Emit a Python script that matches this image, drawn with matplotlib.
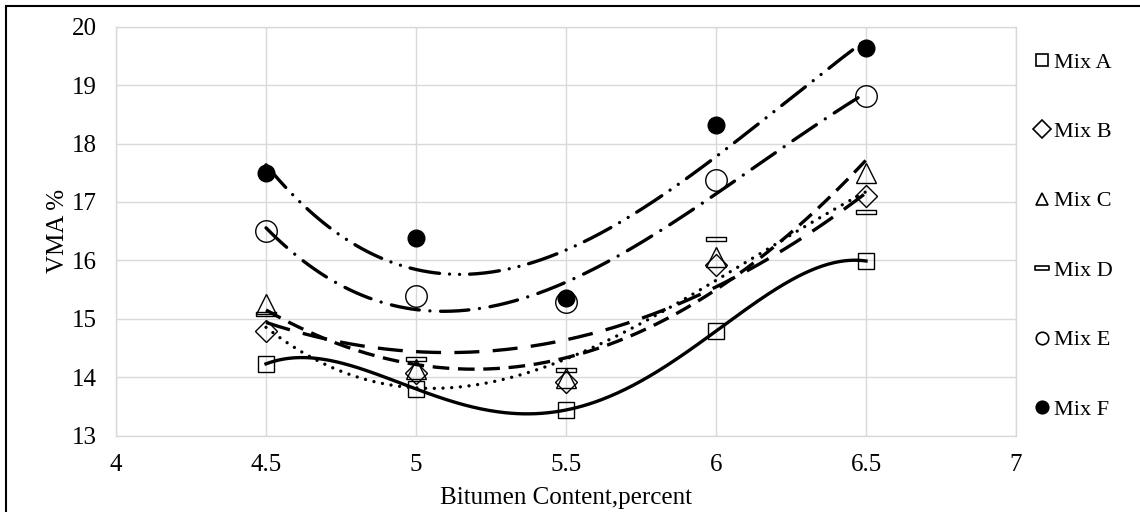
import numpy as np
import matplotlib
matplotlib.use('Agg')
import matplotlib.pyplot as plt
from matplotlib.lines import Line2D
from matplotlib.patches import Rectangle
from matplotlib.path import Path

plt.rcParams['font.family'] = ['Liberation Serif', 'DejaVu Serif']

# bitumen content (%) and VMA (%) for each mix
bitumen = [4.5, 5.0, 5.5, 6.0, 6.5]
mix_names = ['Mix A', 'Mix B', 'Mix C', 'Mix D', 'Mix E', 'Mix F']
vma_a = [14.23, 13.80, 13.44, 14.79, 15.99]
vma_b = [14.79, 14.08, 13.92, 15.92, 17.11]
vma_c = [15.25, 14.14, 13.98, 16.05, 17.50]
vma_d = [15.09, 14.31, 14.12, 16.37, 16.83]
vma_e = [16.50, 15.39, 15.28, 17.37, 18.81]
vma_f = [17.50, 16.39, 15.36, 18.32, 19.64]
# polynomial order of each trendline
trend_order = [4, 3, 2, 2, 3, 3]

x_ticks = [4, 4.5, 5, 5.5, 6, 6.5, 7]
x_ticklabels = ['4', '4.5', '5', '5.5', '6', '6.5', '7']
y_ticks = [13, 14, 15, 16, 17, 18, 19, 20]

# thin flat bar used as marker for Mix D
bar = Path([(-1, -0.22), (1, -0.22), (1, 0.22), (-1, 0.22), (-1, -0.22)],
           [Path.MOVETO, Path.LINETO, Path.LINETO, Path.LINETO, Path.CLOSEPOLY])

styles = [
    dict(marker='s', ms=11.0, ls='-', dash=None),
    dict(marker='D', ms=11.5, ls=(0, (0.01, 2.6)), dash='round'),
    dict(marker='^', ms=14.5, ls=(0, (5.0, 2.6)), dash='butt'),
    dict(marker=bar, ms=14.5, ls=(0, (7.5, 4.0)), dash='butt'),
    dict(marker='o', ms=15.5, ls=(0, (8.5, 3.2, 0.01, 3.2)), dash='round'),
    dict(marker='o', ms=12.0, ls=(0, (9.0, 3.0, 0.01, 3.0, 0.01, 3.0)), dash='round'),
]
series = [vma_a, vma_b, vma_c, vma_d, vma_e, vma_f]

fig = plt.figure(figsize=(11.4, 5.12), dpi=100)
ax = fig.add_axes([116 / 1140, 1 - 435.7 / 512, 900 / 1140, 409 / 512])

xs = np.linspace(bitumen[0], bitumen[-1], 300)
handles = []
for name, vals, order, st in zip(mix_names, series, trend_order, styles):
    face = 'black' if name == 'Mix F' else 'none'
    ax.plot(bitumen, vals, linestyle='None', marker=st['marker'], ms=st['ms'],
            mfc=face, mec='black', mew=1.0, zorder=3)
    coef = np.polyfit(bitumen, vals, order)
    line, = ax.plot(xs, np.polyval(coef, xs), color='black', lw=2.4, zorder=2)
    line.set_linestyle(st['ls'])
    if st['dash']:
        line.set_dash_capstyle(st['dash'])
    handles.append(Line2D([], [], linestyle='None', marker=st['marker'],
                          ms=9 if st['marker'] != bar else 10, mfc=face,
                          mec='black', mew=1.2))

ax.set_xlim(4, 7)
ax.set_ylim(13, 20)
ax.set_xticks(x_ticks)
ax.set_xticklabels(x_ticklabels)
ax.set_yticks(y_ticks)
ax.tick_params(length=0, labelsize=18)
ax.tick_params(axis='x', pad=13)
ax.tick_params(axis='y', pad=14)
ax.grid(True, color='#d9d9d9', lw=1.0)
ax.set_axisbelow(True)
for sp in ax.spines.values():
    sp.set_color('#d9d9d9')
    sp.set_linewidth(1.0)

ax.set_xlabel('Bitumen Content,percent', fontsize=18, labelpad=8)
ax.set_ylabel('VMA %', fontsize=18, labelpad=2)

fig.legend(handles, mix_names, loc='upper left', bbox_to_anchor=(1033 / 1140, 1 - 52 / 512),
           frameon=False, fontsize=16, labelspacing=2.2, handlelength=0.8,
           handletextpad=0.15, borderpad=0, borderaxespad=0)

# outer frame of the chart area
fig.patches.append(Rectangle((6 / 1140, -0.2), 1.2, 1.2 - 6 / 512, transform=fig.transFigure,
                             fill=False, ec='black', lw=1.5))

fig.savefig('out.png', dpi=100)
